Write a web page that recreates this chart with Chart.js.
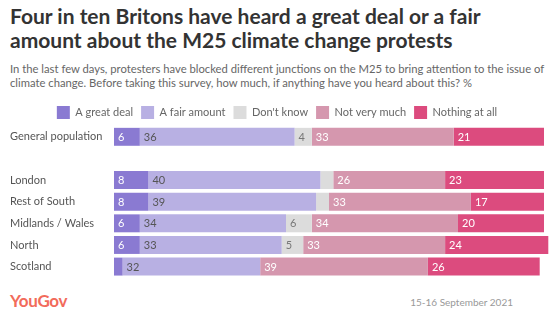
<!DOCTYPE html>
<html>
<head>
<meta charset="utf-8">
<script src="https://cdn.jsdelivr.net/npm/chart.js@4.4.1/dist/chart.umd.min.js"></script>
<style>
  html, body { margin: 0; padding: 0; background: #fff; }
  #wrap { position: relative; width: 559px; height: 328px; overflow: hidden; font-family: Lato, "Open Sans", sans-serif; }
  #title { position: absolute; left: 10px; top: 4px; width: 545px; font-size: 21px; line-height: 23.5px; font-weight: 700; color: #333; white-space: nowrap; }
  #subtitle { position: absolute; left: 10px; top: 62px; width: 545px; font-size: 11.25px; line-height: 14px; color: #666; white-space: nowrap; }
  #chartBox { position: absolute; left: 0; top: 98px; width: 559px; height: 186px; }
  #logo { position: absolute; left: 10px; top: 290px; font-size: 17px; font-weight: 700; color: #f26b5b; letter-spacing: -0.3px; }
  #date { position: absolute; right: 46px; top: 296px; font-size: 10px; color: #999; }
</style>
</head>
<body>
<div id="wrap">
  <div id="title">Four in ten Britons have heard a great deal or a fair<br>amount about the M25 climate change protests</div>
  <div id="subtitle">In the last few days, protesters have blocked different junctions on the M25 to bring attention to the issue of<br>climate change. Before taking this survey, how much, if anything have you heard about this? %</div>
  <div id="chartBox"><canvas id="chart" width="559" height="186"></canvas></div>
  <div id="logo">YouGov</div>
  <div id="date">15-16 September 2021</div>
</div>
<script>
// Groups (blank entry leaves a gap under the national figure)
const groups = ["General population", "", "London", "Rest of South", "Midlands / Wales", "North", "Scotland"];

// Share of each group giving each answer (%)
const greatDeal   = [6, null, 8, 8, 6, 6, 2];
const fairAmount  = [36, null, 40, 39, 34, 33, 32];
const dontKnow    = [4, null, 3, 3, 6, 5, 0];
const notVeryMuch = [33, null, 26, 33, 34, 33, 39];
const nothingAtAll = [21, null, 23, 17, 20, 24, 26];

const answerNames = ["A great deal", "A fair amount", "Don't know", "Not very much", "Nothing at all"];
const answerColors = ["#8a7ad2", "#b8b0e3", "#dcdcdc", "#d597ae", "#dc4b7e"];
const valueColors = ["#ffffff", "#555555", "#777777", "#ffffff", "#ffffff"];

const FONT = "Lato, 'Open Sans', sans-serif";

// Value labels at the left edge of each segment
const segmentLabels = {
  id: 'segmentLabels',
  afterDatasetsDraw(chart) {
    const ctx = chart.ctx;
    ctx.save();
    ctx.font = "11px " + FONT;
    ctx.textAlign = 'left';
    ctx.textBaseline = 'middle';
    chart.data.datasets.forEach((ds, di) => {
      const meta = chart.getDatasetMeta(di);
      meta.data.forEach((bar, i) => {
        const v = ds.data[i];
        if (v === null || v === undefined || v === 0) return;
        const left = Math.min(bar.x, bar.base);
        const w = Math.abs(bar.x - bar.base);
        if (w < 15) return;
        ctx.fillStyle = valueColors[di];
        ctx.fillText(String(v), left + 4, bar.y + 0.5);
      });
    });
    ctx.restore();
  }
};

// Keep the legend compact so the bars sit close beneath it
const legendHeight = {
  id: 'legendHeight',
  beforeInit(chart) {
    const fit = chart.legend.fit;
    chart.legend.fit = function () {
      fit.bind(chart.legend)();
      this.height = 28;
    };
  }
};

const seriesValues = [greatDeal, fairAmount, dontKnow, notVeryMuch, nothingAtAll];

new Chart(document.getElementById('chart'), {
  type: 'bar',
  data: {
    labels: groups,
    datasets: seriesValues.map((vals, k) => ({
      label: answerNames[k],
      data: vals,
      backgroundColor: answerColors[k],
      borderWidth: 0,
      barPercentage: 0.83,
      categoryPercentage: 1,
      clip: false
    }))
  },
  options: {
    indexAxis: 'y',
    responsive: false,
    animation: false,
    devicePixelRatio: 1,
    layout: { padding: { left: 10, right: 15, top: 0, bottom: 6 } },
    plugins: {
      legend: {
        position: 'top',
        align: 'center',
        labels: {
          boxWidth: 13,
          boxHeight: 13,
          padding: 8,
          color: '#666',
          font: { family: FONT, size: 11 }
        }
      },
      tooltip: { enabled: false },
      title: { display: false }
    },
    scales: {
      x: {
        stacked: true,
        min: 0,
        max: 100,
        display: false
      },
      y: {
        stacked: true,
        grid: { display: false },
        border: { display: false },
        ticks: {
          crossAlign: 'far',
          color: '#555',
          font: { family: FONT, size: 11 },
          padding: 0
        },
        afterFit(scale) { scale.width = 104; }
      }
    }
  },
  plugins: [segmentLabels, legendHeight]
});
</script>
</body>
</html>
